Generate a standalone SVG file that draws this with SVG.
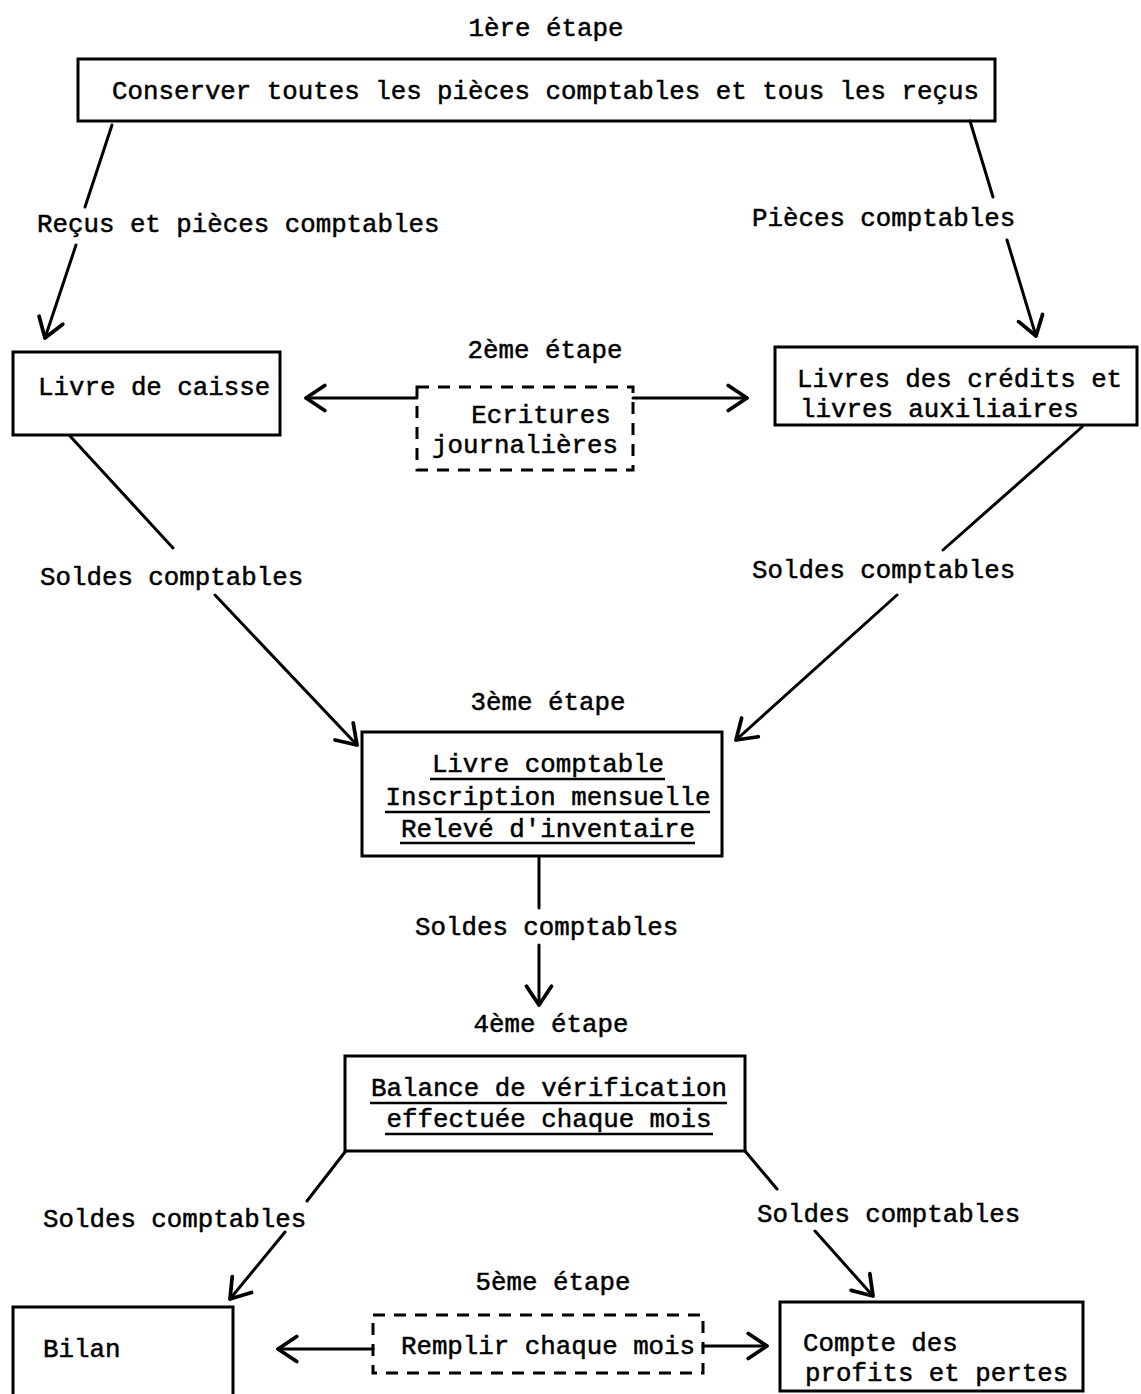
<svg xmlns="http://www.w3.org/2000/svg" width="1141" height="1394" viewBox="0 0 1141 1394">
<style>
text{font-family:"Liberation Mono","Courier New",monospace;font-size:25.8px;fill:#000;stroke:#000;stroke-width:0.5}
.box{fill:none;stroke:#000;stroke-width:3}
.dash{fill:none;stroke:#000;stroke-width:3;stroke-dasharray:12 9}
.ln{fill:none;stroke:#000;stroke-width:3;stroke-linecap:round}
.ul{stroke:#000;stroke-width:2.5}
.c{text-anchor:middle}
</style>
<defs>
<marker id="ah" markerUnits="userSpaceOnUse" markerWidth="30" markerHeight="30" viewBox="-16 -12 20 24" refX="0" refY="0" orient="auto">
<path d="M -15 -10 L 0 0 L -15 10" fill="none" stroke="#000" stroke-width="3" stroke-linecap="round" stroke-linejoin="round"/>
</marker>
</defs>
<rect width="1141" height="1394" fill="#fff"/>

<g id="etape1"><text x="546" y="36" class="c">1ère étape</text></g>
<g id="etape2"><text x="545" y="358" class="c">2ème étape</text></g>
<g id="etape3"><text x="548" y="710" class="c">3ème étape</text></g>
<g id="etape4"><text x="551" y="1032" class="c">4ème étape</text></g>
<g id="etape5"><text x="553" y="1290" class="c">5ème étape</text></g>

<g id="conserver">
<rect class="box" x="78" y="59" width="917" height="62"/>
<text x="112" y="99">Conserver toutes les pièces comptables et tous les reçus</text>
</g>

<g id="caisse">
<rect class="box" x="13" y="352" width="267" height="83"/>
<text x="38" y="395">Livre de caisse</text>
</g>

<g id="ecritures">
<rect class="dash" x="417" y="387" width="216" height="83"/>
<text x="541" y="423" class="c">Ecritures</text>
<text x="525" y="453" class="c">journalières</text>
</g>

<g id="credits">
<rect class="box" x="775" y="347" width="362" height="78"/>
<text x="797" y="387">Livres des crédits et</text>
<text x="800" y="417">livres auxiliaires</text>
</g>

<g id="livre-comptable">
<rect class="box" x="362" y="732" width="360" height="124"/>
<text x="548" y="772" class="c">Livre comptable</text>
<line class="ul" x1="430" y1="779" x2="665" y2="779"/>
<text x="548" y="805" class="c">Inscription mensuelle</text>
<line class="ul" x1="385" y1="812" x2="710" y2="812"/>
<text x="548" y="837" class="c">Relevé d'inventaire</text>
<line class="ul" x1="400" y1="843" x2="695" y2="843"/>
</g>

<g id="balance">
<rect class="box" x="345" y="1056" width="400" height="95"/>
<text x="549" y="1096" class="c">Balance de vérification</text>
<line class="ul" x1="370" y1="1103" x2="727" y2="1103"/>
<text x="549" y="1127" class="c">effectuée chaque mois</text>
<line class="ul" x1="385" y1="1134" x2="713" y2="1134"/>
</g>

<g id="bilan">
<rect class="box" x="13" y="1307" width="220" height="100"/>
<text x="43" y="1357">Bilan</text>
</g>

<g id="remplir">
<rect class="dash" x="373" y="1315" width="330" height="58"/>
<text x="548" y="1354" class="c">Remplir chaque mois</text>
</g>

<g id="compte">
<rect class="box" x="780" y="1302" width="303" height="89"/>
<text x="803" y="1351">Compte des</text>
<text x="805" y="1381">profits et pertes</text>
</g>

<g id="connectors">
<line class="ln" x1="112" y1="125" x2="85" y2="207"/>
<line class="ln" x1="76" y1="245" x2="45" y2="338" marker-end="url(#ah)"/>
<text x="37" y="232">Reçus et pièces comptables</text>

<line class="ln" x1="970" y1="121" x2="993" y2="197"/>
<line class="ln" x1="1007" y1="240" x2="1036" y2="336" marker-end="url(#ah)"/>
<text x="752" y="226">Pièces comptables</text>

<line class="ln" x1="417" y1="398" x2="306" y2="398" marker-end="url(#ah)"/>
<line class="ln" x1="633" y1="398" x2="747" y2="398" marker-end="url(#ah)"/>

<line class="ln" x1="70" y1="436" x2="173" y2="548"/>
<line class="ln" x1="215" y1="595" x2="357" y2="745" marker-end="url(#ah)"/>
<text x="40" y="585">Soldes comptables</text>

<line class="ln" x1="1082" y1="427" x2="943" y2="550"/>
<line class="ln" x1="897" y1="595" x2="736" y2="740" marker-end="url(#ah)"/>
<text x="752" y="578">Soldes comptables</text>

<line class="ln" x1="539" y1="857" x2="539" y2="908"/>
<line class="ln" x1="539" y1="945" x2="539" y2="1005" marker-end="url(#ah)"/>
<text x="415" y="935">Soldes comptables</text>

<line class="ln" x1="345" y1="1152" x2="307" y2="1201"/>
<line class="ln" x1="285" y1="1232" x2="230" y2="1299" marker-end="url(#ah)"/>
<text x="43" y="1227">Soldes comptables</text>

<line class="ln" x1="745" y1="1151" x2="777" y2="1189"/>
<line class="ln" x1="815" y1="1231" x2="873" y2="1296" marker-end="url(#ah)"/>
<text x="757" y="1222">Soldes comptables</text>

<line class="ln" x1="373" y1="1349" x2="278" y2="1349" marker-end="url(#ah)"/>
<line class="ln" x1="703" y1="1346" x2="767" y2="1346" marker-end="url(#ah)"/>
</g>
</svg>
